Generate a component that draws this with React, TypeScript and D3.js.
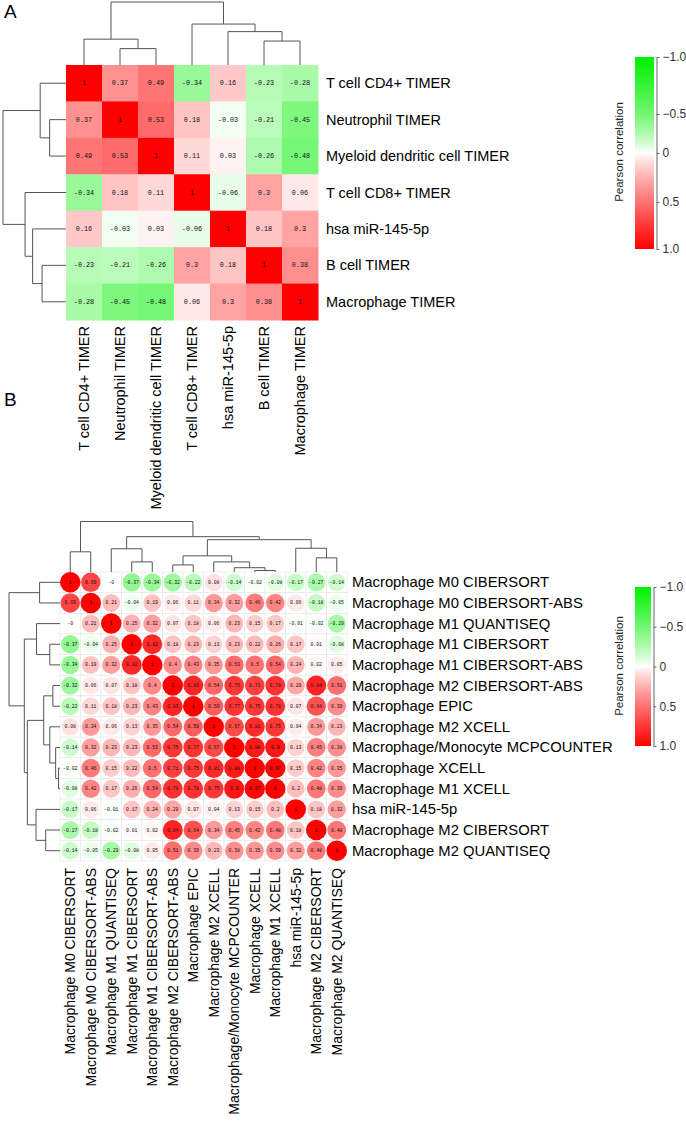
import { useEffect, useRef } from 'react';
import * as d3 from 'd3';

type Tree = number | [number, Tree, Tree];

// Panel A: TIMER cell types vs miR-145-5p
const labelsA = [
  'T cell CD4+ TIMER',
  'Neutrophil TIMER',
  'Myeloid dendritic cell TIMER',
  'T cell CD8+ TIMER',
  'hsa miR-145-5p',
  'B cell TIMER',
  'Macrophage TIMER',
];

const valuesA = [
  [1, 0.37, 0.49, -0.34, 0.16, -0.23, -0.28],
  [0.37, 1, 0.53, 0.18, -0.03, -0.21, -0.45],
  [0.49, 0.53, 1, 0.11, 0.03, -0.26, -0.48],
  [-0.34, 0.18, 0.11, 1, -0.06, 0.3, 0.06],
  [0.16, -0.03, 0.03, -0.06, 1, 0.18, 0.3],
  [-0.23, -0.21, -0.26, 0.3, 0.18, 1, 0.38],
  [-0.28, -0.45, -0.48, 0.06, 0.3, 0.38, 1],
];

// [merge height, left, right], leaves are label indices
const treeA: Tree = [1, [0.41, 0, [0.26, 1, 2]], [0.65, 3, [0.53, 4, [0.38, 5, 6]]]];

// Panel B: macrophage estimates
const labelsB = [
  'Macrophage M0 CIBERSORT',
  'Macrophage M0 CIBERSORT-ABS',
  'Macrophage M1 QUANTISEQ',
  'Macrophage M1 CIBERSORT',
  'Macrophage M1 CIBERSORT-ABS',
  'Macrophage M2 CIBERSORT-ABS',
  'Macrophage EPIC',
  'Macrophage M2 XCELL',
  'Macrophage/Monocyte MCPCOUNTER',
  'Macrophage XCELL',
  'Macrophage M1 XCELL',
  'hsa miR-145-5p',
  'Macrophage M2 CIBERSORT',
  'Macrophage M2 QUANTISEQ',
];

const valuesB = [
  [1, 0.69, -0, -0.37, -0.34, -0.32, -0.22, 0.08, -0.14, -0.02, -0.08, -0.17, -0.27, -0.14],
  [0.69, 1, 0.21, -0.04, 0.19, 0.06, 0.11, 0.34, 0.32, 0.46, 0.42, 0.06, -0.18, -0.05],
  [-0, 0.21, 1, 0.25, 0.32, 0.07, 0.18, 0.06, 0.23, 0.15, 0.17, -0.01, -0.02, -0.29],
  [-0.37, -0.04, 0.25, 1, 0.82, 0.18, 0.23, 0.13, 0.23, 0.22, 0.26, 0.17, 0.01, -0.08],
  [-0.34, 0.19, 0.32, 0.82, 1, 0.4, 0.43, 0.35, 0.53, 0.5, 0.54, 0.24, 0.02, 0.05],
  [-0.32, 0.06, 0.07, 0.18, 0.4, 1, 0.83, 0.54, 0.75, 0.71, 0.78, 0.29, 0.84, 0.51],
  [-0.22, 0.11, 0.18, 0.23, 0.43, 0.83, 1, 0.59, 0.77, 0.75, 0.78, 0.07, 0.64, 0.39],
  [0.08, 0.34, 0.06, 0.13, 0.35, 0.54, 0.59, 1, 0.67, 0.81, 0.75, 0.04, 0.34, 0.23],
  [-0.14, 0.32, 0.23, 0.23, 0.53, 0.75, 0.77, 0.67, 1, 0.88, 0.9, 0.13, 0.45, 0.38],
  [-0.02, 0.46, 0.15, 0.22, 0.5, 0.71, 0.75, 0.81, 0.88, 1, 0.97, 0.15, 0.42, 0.35],
  [-0.08, 0.42, 0.17, 0.26, 0.54, 0.78, 0.78, 0.75, 0.9, 0.97, 1, 0.2, 0.48, 0.39],
  [-0.17, 0.06, -0.01, 0.17, 0.24, 0.29, 0.07, 0.04, 0.13, 0.15, 0.2, 1, 0.18, 0.32],
  [-0.27, -0.18, -0.02, 0.01, 0.02, 0.84, 0.64, 0.34, 0.45, 0.42, 0.48, 0.18, 1, 0.48],
  [-0.14, -0.05, -0.29, -0.08, 0.05, 0.51, 0.39, 0.23, 0.38, 0.35, 0.39, 0.32, 0.48, 1],
];

const treeB: Tree = [
  1,
  [0.4, 0, 1],
  [
    0.7,
    [0.46, 2, [0.2, 3, 4]],
    [0.64, [0.32, [0.14, 5, 6], [0.2, 7, [0.085, 8, [0.03, 9, 10]]]], [0.47, 11, [0.28, 12, 13]]],
  ],
];

const legendTicks = [-1, -0.5, 0, 0.5, 1];

const SANS = 'Liberation Sans, Arial, sans-serif';
const MONO = 'Liberation Mono, DejaVu Sans Mono, monospace';

const color = (v: number) => {
  const t = Math.pow(Math.abs(v), 0.85);
  return v >= 0 ? d3.interpolateRgb('#ffffff', '#ff0000')(t) : d3.interpolateRgb('#ffffff', '#00f000')(t);
};

const fmt = (v: number) => (v === 1 ? '1' : Object.is(v, -0) ? '-0' : String(v));

// draw dendrogram; orient 'top' uses pos for x, 'left' uses pos for y
function drawTree(
  g: d3.Selection<SVGGElement, unknown, null, undefined>,
  tree: Tree,
  pos: (i: number) => number,
  hScale: d3.ScaleLinear<number, number>,
  orient: 'top' | 'left'
) {
  const p = d3.path();
  const pt = (a: number, h: number): [number, number] => (orient === 'top' ? [a, hScale(h)] : [hScale(h), a]);
  const walk = (t: Tree): { a: number; h: number } => {
    if (typeof t === 'number') return { a: pos(t), h: 0 };
    const [h, l, r] = t;
    const L = walk(l);
    const R = walk(r);
    for (const c of [L, R]) {
      p.moveTo(...pt(c.a, c.h));
      p.lineTo(...pt(c.a, h));
    }
    p.moveTo(...pt(L.a, h));
    p.lineTo(...pt(R.a, h));
    return { a: (L.a + R.a) / 2, h };
  };
  walk(tree);
  g.append('path').attr('d', p.toString()).attr('fill', 'none').attr('stroke', '#555').attr('stroke-width', 1);
}

function drawLegend(
  svg: d3.Selection<SVGSVGElement, unknown, null, undefined>,
  id: string,
  x: number,
  w: number,
  scale: d3.ScaleLinear<number, number>,
  titleY: number
) {
  const [y0, y1] = [scale(-1), scale(1)];
  const grad = svg
    .append('defs')
    .append('linearGradient')
    .attr('id', id)
    .attr('x1', 0)
    .attr('y1', 0)
    .attr('x2', 0)
    .attr('y2', 1);
  d3.range(-1, 1.001, 0.05).forEach((v) => {
    grad
      .append('stop')
      .attr('offset', (scale(v) - y0) / (y1 - y0))
      .attr('stop-color', color(v));
  });
  svg.append('rect').attr('x', x).attr('y', y0).attr('width', w).attr('height', y1 - y0).attr('fill', `url(#${id})`);
  const ax = svg
    .append('g')
    .attr('transform', `translate(${x + w + 2.5},0)`)
    .call(
      d3
        .axisRight(scale)
        .tickValues(legendTicks)
        .tickSize(3)
        .tickSizeOuter(0)
        .tickFormat((d) => (+d === 0 ? '0' : d3.format('.1f')(+d)))
    );
  ax.selectAll('path, line').attr('stroke', '#666');
  ax.selectAll('text').attr('fill', '#333').attr('font-size', 12).attr('font-family', SANS).attr('x', 6);
  svg
    .append('text')
    .attr('transform', `translate(${x - 12},${titleY}) rotate(-90)`)
    .attr('text-anchor', 'middle')
    .attr('font-size', 11.5)
    .attr('font-family', SANS)
    .attr('fill', '#222')
    .text('Pearson correlation');
}

export default function App() {
  const svgRef = useRef<SVGSVGElement>(null);

  useEffect(() => {
    document.body.style.margin = '0';
    if (!svgRef.current) return;
    const svg = d3.select(svgRef.current);
    svg.selectAll('*').remove();

    // ---------- Panel A ----------
    const idxA = labelsA.map((_, i) => i);
    const xA = d3.scaleBand<number>().domain(idxA).range([66, 318]);
    const yA = d3.scaleBand<number>().domain(idxA).range([65, 320]);
    const gA = svg.append('g');

    gA.append('text').attr('x', 4).attr('y', 18).attr('font-size', 19).attr('font-family', SANS).text('A');

    const cellsA = valuesA.flatMap((row, r) => row.map((v, c) => ({ r, c, v })));
    gA.selectAll('rect.cell')
      .data(cellsA)
      .enter()
      .append('rect')
      .attr('x', (d) => xA(d.c)!)
      .attr('y', (d) => yA(d.r)!)
      .attr('width', xA.bandwidth() + 0.5)
      .attr('height', yA.bandwidth() + 0.5)
      .attr('fill', (d) => color(d.v));
    gA.selectAll('text.val')
      .data(cellsA)
      .enter()
      .append('text')
      .attr('x', (d) => xA(d.c)! + xA.bandwidth() / 2)
      .attr('y', (d) => yA(d.r)! + yA.bandwidth() / 2)
      .attr('text-anchor', 'middle')
      .attr('dominant-baseline', 'central')
      .attr('font-size', 6.8)
      .attr('font-family', MONO)
      .attr('fill', '#111')
      .text((d) => fmt(d.v));

    gA.selectAll('text.rowlab')
      .data(labelsA)
      .enter()
      .append('text')
      .attr('x', 326)
      .attr('y', (_, i) => yA(i)! + yA.bandwidth() / 2)
      .attr('dominant-baseline', 'central')
      .attr('font-size', 14.5)
      .attr('font-family', SANS)
      .text((d) => d);
    gA.selectAll('text.collab')
      .data(labelsA)
      .enter()
      .append('text')
      .attr('transform', (_, i) => `translate(${xA(i)! + xA.bandwidth() / 2},326) rotate(-90)`)
      .attr('text-anchor', 'end')
      .attr('dominant-baseline', 'central')
      .attr('font-size', 14.5)
      .attr('font-family', SANS)
      .text((d) => d);

    drawTree(gA, treeA, (i) => xA(i)! + xA.bandwidth() / 2, d3.scaleLinear().domain([0, 1]).range([65, 2]), 'top');
    drawTree(gA, treeA, (i) => yA(i)! + yA.bandwidth() / 2, d3.scaleLinear().domain([0, 1]).range([66, 3]), 'left');

    drawLegend(svg, 'gradA', 635, 19, d3.scaleLinear().domain(legendTicks).range([57, 114, 153, 202, 249]), 152);

    // ---------- Panel B ----------
    const idxB = labelsB.map((_, i) => i);
    const xB = d3.scaleBand<number>().domain(idxB).range([60, 347]);
    const yB = d3.scaleBand<number>().domain(idxB).range([572, 861]);
    const gB = svg.append('g');

    gB.append('text').attr('x', 4).attr('y', 406).attr('font-size', 19).attr('font-family', SANS).text('B');

    const cellsB = valuesB.flatMap((row, r) => row.map((v, c) => ({ r, c, v })));
    gB.selectAll('rect.cell')
      .data(cellsB)
      .enter()
      .append('rect')
      .attr('x', (d) => xB(d.c)!)
      .attr('y', (d) => yB(d.r)!)
      .attr('width', xB.bandwidth())
      .attr('height', yB.bandwidth())
      .attr('fill', '#fff')
      .attr('stroke', '#e6e6e6')
      .attr('stroke-width', 0.6);
    const rB = d3.scaleLinear().domain([0, 1]).range([xB.bandwidth() * 0.42, xB.bandwidth() * 0.5]);
    gB.selectAll('circle')
      .data(cellsB)
      .enter()
      .append('circle')
      .attr('cx', (d) => xB(d.c)! + xB.bandwidth() / 2)
      .attr('cy', (d) => yB(d.r)! + yB.bandwidth() / 2)
      .attr('r', (d) => rB(Math.abs(d.v)))
      .attr('fill', (d) => color(d.v));
    gB.selectAll('text.val')
      .data(cellsB)
      .enter()
      .append('text')
      .attr('x', (d) => xB(d.c)! + xB.bandwidth() / 2)
      .attr('y', (d) => yB(d.r)! + yB.bandwidth() / 2)
      .attr('text-anchor', 'middle')
      .attr('dominant-baseline', 'central')
      .attr('font-size', 4.8)
      .attr('font-family', MONO)
      .attr('fill', '#111')
      .text((d) => fmt(d.v));

    gB.selectAll('text.rowlab')
      .data(labelsB)
      .enter()
      .append('text')
      .attr('x', 352)
      .attr('y', (_, i) => yB(i)! + yB.bandwidth() / 2)
      .attr('dominant-baseline', 'central')
      .attr('font-size', 14.8)
      .attr('font-family', SANS)
      .text((d) => d);
    gB.selectAll('text.collab')
      .data(labelsB)
      .enter()
      .append('text')
      .attr('transform', (_, i) => `translate(${xB(i)! + xB.bandwidth() / 2},868) rotate(-90)`)
      .attr('text-anchor', 'end')
      .attr('dominant-baseline', 'central')
      .attr('font-size', 14)
      .attr('font-family', SANS)
      .text((d) => d);

    drawTree(gB, treeB, (i) => xB(i)! + xB.bandwidth() / 2, d3.scaleLinear().domain([0, 1]).range([572, 521.5]), 'top');
    drawTree(gB, treeB, (i) => yB(i)! + yB.bandwidth() / 2, d3.scaleLinear().domain([0, 1]).range([60, 9]), 'left');

    drawLegend(svg, 'gradB', 635, 16, d3.scaleLinear().domain([-1, 1]).range([587, 746]), 666);
  }, []);

  return <svg ref={svgRef} width={686} height={1125} style={{ display: 'block' }} />;
}
